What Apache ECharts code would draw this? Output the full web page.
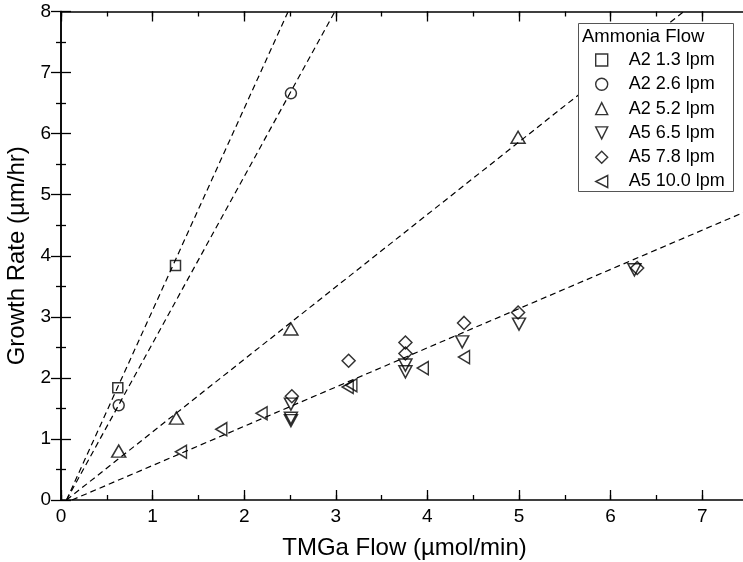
<!DOCTYPE html>
<html>
<head>
<meta charset="utf-8">
<script src="https://cdn.jsdelivr.net/npm/echarts@6/dist/echarts.min.js"></script>
<style>html,body{margin:0;padding:0;background:#fff}#c{width:743px;height:562px}</style>
</head>
<body>
<div id="c"></div>
<script>
// ---- data ----
const seriesNames = ['A2 1.3 lpm', 'A2 2.6 lpm', 'A2 5.2 lpm', 'A5 6.5 lpm', 'A5 7.8 lpm', 'A5 10.0 lpm'];
const a2_13 = [[0.62, 1.84], [1.25, 3.84]];
const a2_26 = [[0.63, 1.55], [2.51, 6.66]];
const a2_52 = [[0.63, 0.80], [1.26, 1.34], [2.51, 2.80], [4.99, 5.94]];
const a5_65 = [[2.51, 1.57], [2.51, 1.34], [2.51, 1.30], [3.76, 2.21], [3.76, 2.10], [4.38, 2.59], [5.00, 2.88], [6.26, 3.77]];
const a5_78 = [[2.52, 1.70], [3.14, 2.28], [3.76, 2.58], [3.76, 2.40], [4.40, 2.90], [4.99, 3.07], [6.29, 3.80]];
const a5_100 = [[1.31, 0.79], [1.75, 1.16], [2.19, 1.42], [3.13, 1.85], [3.17, 1.88], [3.95, 2.16], [4.40, 2.34]];
// dashed fit lines (end points)
const fitA2_13 = [[0.06, 0], [2.48, 8]];
const fitA2_26 = [[0.06, 0], [2.99, 8]];
const fitA2_52 = [[0.06, 0], [6.80, 8]];
const fitA5 = [[0.12, 0], [7.5, 4.74]];
const xTickLabels = ['0', '1', '2', '3', '4', '5', '6', '7'];
const yTickLabels = ['0', '1', '2', '3', '4', '5', '6', '7', '8'];

const FONT = 'Liberation Sans';
const markerStyle = { color: 'rgba(0,0,0,0)', borderColor: '#000', borderWidth: 1.5 };
const symbols = {
  square: 'rect',
  circle: 'circle',
  up: 'triangle',
  down: 'path://M0,0 L10,0 L5,10 Z',
  diamond: 'diamond',
  left: 'path://M10,0 L10,10 L0,5 Z'
};

function scatter(name, data, symbol, size) {
  return { name, type: 'scatter', data, symbol, symbolSize: size, itemStyle: markerStyle, z: 5 };
}
function fit(data) {
  return { type: 'line', data, symbol: 'none', silent: true, z: 3,
    lineStyle: { color: '#000', width: 1.2, type: [6, 4] } };
}

const tickLine = { color: '#000', width: 1.3 };
const majorX = (pos, withLabels) => ({
  type: 'value', position: pos, min: 0, max: 7.5, interval: 1,
  axisLine: { show: true, lineStyle: { color: '#000', width: 1.5 } },
  axisTick: { show: true, inside: true, length: 10, lineStyle: tickLine },
  splitLine: { show: false },
  axisLabel: withLabels ? { show: true, margin: 7, fontFamily: FONT, fontSize: 19, color: '#000',
    formatter: (v) => Number.isInteger(v) ? xTickLabels[v] : '' } : { show: false }
});
const minorX = (pos) => ({
  type: 'value', position: pos, min: 0, max: 7.5, interval: 0.5,
  axisLine: { show: false },
  axisTick: { show: true, inside: true, length: 5, lineStyle: tickLine },
  axisLabel: { show: false }, splitLine: { show: false }
});
const yAx = (pos, withLabels) => ({
  type: 'value', position: pos, min: 0, max: 8, interval: 1,
  axisLine: { show: true, lineStyle: { color: '#000', width: 1.5 } },
  axisTick: { show: true, inside: true, length: 10, lineStyle: tickLine },
  minorTick: { show: true, splitNumber: 2, length: 5, lineStyle: tickLine },
  splitLine: { show: false }, minorSplitLine: { show: false },
  axisLabel: withLabels ? { show: true, margin: 10, fontFamily: FONT, fontSize: 19, color: '#000',
    formatter: (v) => yTickLabels[v] } : { show: false }
});

const xBottom = majorX('bottom', true);
xBottom.name = 'TMGa Flow (\u00b5mol/min)';
xBottom.nameLocation = 'middle';
xBottom.nameGap = 36;
xBottom.nameTextStyle = { fontFamily: FONT, fontSize: 24, color: '#000' };
const yLeft = yAx('left', true);
yLeft.name = 'Growth Rate (\u00b5m/hr)';
yLeft.nameLocation = 'middle';
yLeft.nameGap = 24;
yLeft.nameTextStyle = { fontFamily: FONT, fontSize: 24, color: '#000' };

const chart = echarts.init(document.getElementById('c'), null, { renderer: 'canvas' });
chart.setOption({
  animation: false,
  backgroundColor: '#fff',
  grid: { left: 61, right: -5, top: 11.5, bottom: 62, containLabel: false, outerBoundsMode: 'none' },
  xAxis: [xBottom, minorX('bottom'), majorX('top', false), minorX('top')],
  yAxis: [yLeft, yAx('right', false)],
  legend: {
    data: seriesNames, orient: 'vertical', left: 595, top: 51, padding: 0,
    itemGap: 6.3, itemWidth: 12, itemHeight: 12, z: 30,
    textStyle: { fontFamily: FONT, fontSize: 18, color: '#000', padding: [0, 0, 0, 16] },
    itemStyle: { borderWidth: 1.4 }
  },
  graphic: [
    { type: 'rect', z: 20, shape: { x: 578.5, y: 23.5, width: 155, height: 168 },
      style: { fill: '#fff', stroke: '#555', lineWidth: 1 } },
    { type: 'text', z: 31, style: { x: 582, y: 37, text: 'Ammonia Flow', fontFamily: FONT, fontSize: 18.5,
      fill: '#000', verticalAlign: 'middle', textAlign: 'left' } }
  ],
  series: [
    fit(fitA2_13), fit(fitA2_26), fit(fitA2_52), fit(fitA5),
    scatter(seriesNames[0], a2_13, symbols.square, 10),
    scatter(seriesNames[1], a2_26, symbols.circle, 11),
    scatter(seriesNames[2], a2_52, symbols.up, [14, 12]),
    scatter(seriesNames[3], a5_65, symbols.down, [13, 12]),
    scatter(seriesNames[4], a5_78, symbols.diamond, [13, 13]),
    scatter(seriesNames[5], a5_100, symbols.left, [11, 13])
  ]
});
</script>
</body>
</html>
